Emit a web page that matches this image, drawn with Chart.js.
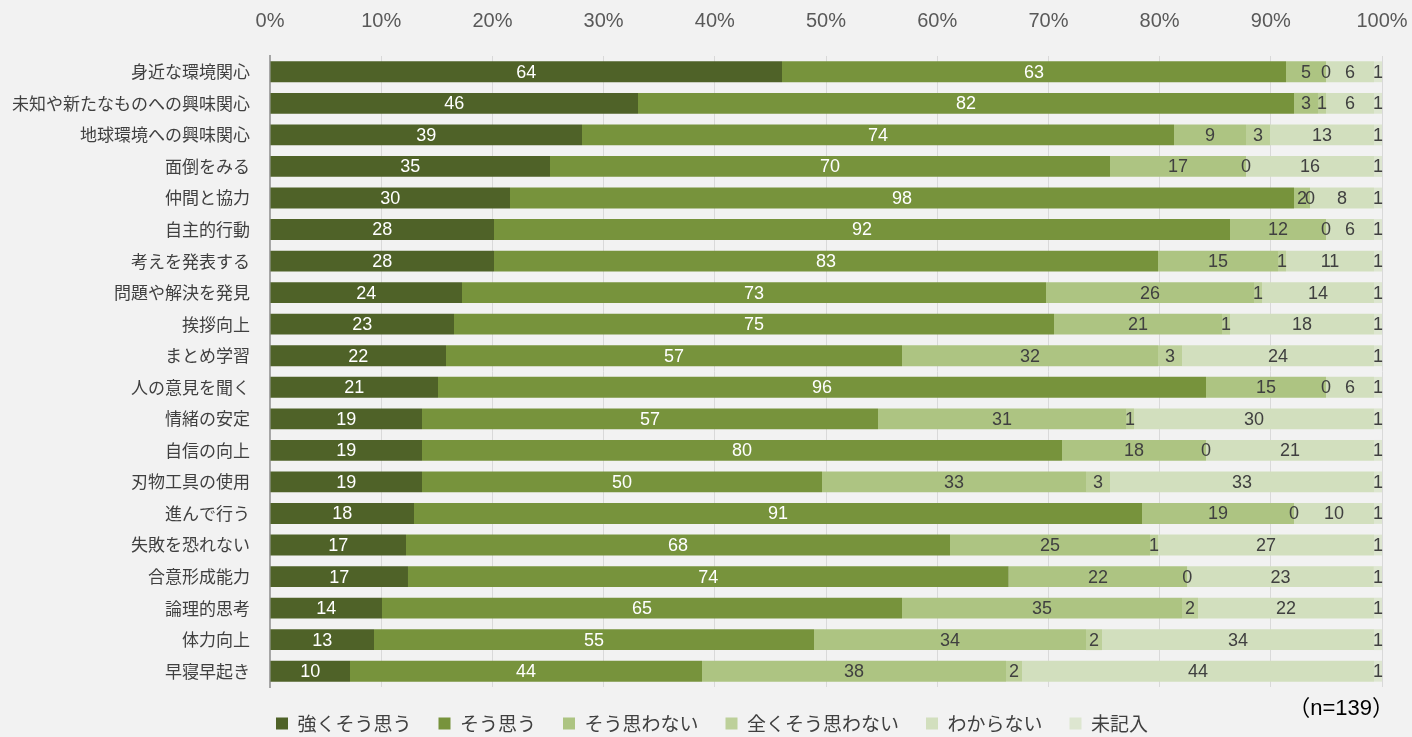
<!DOCTYPE html>
<html>
<head>
<meta charset="utf-8">
<script src="https://cdn.jsdelivr.net/npm/chart.js@4/dist/chart.umd.min.js"></script>
<style>
  html, body { margin: 0; padding: 0; background: #f2f2f2; }
  #wrap { width: 1412px; height: 737px; position: relative; }
</style>
</head>
<body>
<div id="wrap"><canvas id="c" width="1412" height="737"></canvas></div>
<script>
// 回答数 (n=139)
var items = ['身近な環境関心', '未知や新たなものへの興味関心', '地球環境への興味関心', '面倒をみる', '仲間と協力',
  '自主的行動', '考えを発表する', '問題や解決を発見', '挨拶向上', 'まとめ学習', '人の意見を聞く', '情緒の安定',
  '自信の向上', '刃物工具の使用', '進んで行う', '失敗を恐れない', '合意形成能力', '論理的思考', '体力向上', '早寝早起き'];
var seriesNames = ['強くそう思う', 'そう思う', 'そう思わない', '全くそう思わない', 'わからない', '未記入'];
var strongYes = [64, 46, 39, 35, 30, 28, 28, 24, 23, 22, 21, 19, 19, 19, 18, 17, 17, 14, 13, 10];
var yes       = [63, 82, 74, 70, 98, 92, 83, 73, 75, 57, 96, 57, 80, 50, 91, 68, 74, 65, 55, 44];
var no        = [5, 3, 9, 17, 2, 12, 15, 26, 21, 32, 15, 31, 18, 33, 19, 25, 22, 35, 34, 38];
var strongNo  = [0, 1, 3, 0, 0, 0, 1, 1, 1, 3, 0, 1, 0, 3, 0, 1, 0, 2, 2, 2];
var unknown   = [6, 6, 13, 16, 8, 6, 11, 14, 18, 24, 6, 30, 21, 33, 10, 27, 23, 22, 34, 44];
var blank     = [1, 1, 1, 1, 1, 1, 1, 1, 1, 1, 1, 1, 1, 1, 1, 1, 1, 1, 1, 1];

var counts = [strongYes, yes, no, strongNo, unknown, blank];
var colors = ['#4f6228', '#77933c', '#adc482', '#bdd09a', '#d2dfbe', '#dde6d0'];
var labelColors = ['#ffffff', '#ffffff', '#404040', '#404040', '#404040', '#404040'];
var fontFamily = '"Noto Sans CJK JP", "Noto Sans", sans-serif';
var numFont = '"Liberation Sans", Arial, "Noto Sans CJK JP", sans-serif';

// 100%積み上げ: 各行の合計で割る
var rowSums = items.map(function (_, j) {
  return counts.reduce(function (s, arr) { return s + arr[j]; }, 0);
});

var datasets = counts.map(function (arr, i) {
  return {
    label: seriesNames[i],
    data: arr.map(function (v, j) { return v / rowSums[j] * 100; }),
    counts: arr,
    backgroundColor: colors[i],
    borderWidth: 0,
    barPercentage: 0.66,
    categoryPercentage: 1.0
  };
});

var valueLabels = {
  id: 'valueLabels',
  afterDatasetsDraw: function (chart) {
    var ctx = chart.ctx;
    ctx.save();
    ctx.font = '18px ' + numFont;
    ctx.textAlign = 'center';
    ctx.textBaseline = 'middle';
    chart.data.datasets.forEach(function (ds, i) {
      var meta = chart.getDatasetMeta(i);
      meta.data.forEach(function (el, j) {
        var p = el.getProps(['x', 'y', 'base'], true);
        ctx.fillStyle = labelColors[i];
        ctx.fillText(String(ds.counts[j]), (p.x + p.base) / 2, p.y + 1);
      });
    });
    ctx.font = '22px ' + numFont;
    ctx.fillStyle = '#000000';
    ctx.textAlign = 'right';
    ctx.fillText('（n=139）', chart.chartArea.right + 12, chart.chartArea.bottom + 22);
    ctx.restore();
  }
};

new Chart(document.getElementById('c'), {
  type: 'bar',
  data: { labels: items, datasets: datasets },
  options: {
    indexAxis: 'y',
    responsive: false,
    animation: false,
    layout: { padding: { left: 12, right: 0, top: -14, bottom: -6 } },
    scales: {
      x: {
        stacked: true,
        position: 'top',
        min: 0,
        max: 100,
        afterFit: function (scale) { scale.paddingRight = 30; scale.paddingLeft = 0; },
        ticks: {
          stepSize: 10,
          color: '#595959',
          font: { size: 20, family: numFont },
          padding: 23,
          callback: function (v) { return v + '%'; }
        },
        grid: { color: '#d9d9d9', drawTicks: false },
        border: { display: false }
      },
      y: {
        stacked: true,
        afterFit: function (scale) { scale.width = 258; },
        ticks: {
          color: '#404040',
          font: { size: 17, family: fontFamily },
          padding: 20
        },
        grid: { display: false, drawTicks: false },
        border: { display: true, color: '#a6a6a6', width: 2 }
      }
    },
    plugins: {
      legend: {
        position: 'bottom',
        labels: {
          boxWidth: 12,
          boxHeight: 12,
          padding: 27,
          color: '#404040',
          font: { size: 19, family: fontFamily }
        }
      },
      tooltip: { enabled: false }
    }
  },
  plugins: [valueLabels]
});
</script>
</body>
</html>
